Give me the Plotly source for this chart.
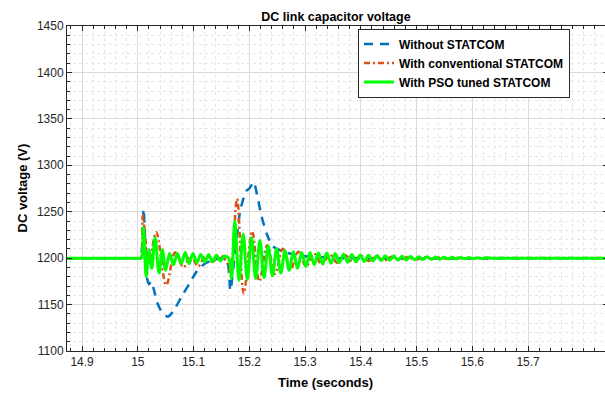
import plotly.graph_objects as go

# ---------------- data ----------------
t_without = [14.873, 15.000, 15.005, 15.0105, 15.016, 15.020, 15.024, 15.028, 15.035, 15.044,
             15.054, 15.064, 15.078, 15.092, 15.106, 15.120, 15.135, 15.150, 15.160, 15.166,
             15.175, 15.184, 15.194, 15.200, 15.208, 15.214, 15.222, 15.232, 15.242, 15.260,
             15.280, 15.300, 15.330, 15.360, 15.845]
v_without = [1200, 1200, 1200, 1253, 1180, 1172, 1175, 1168, 1152, 1141,
             1137, 1143, 1158, 1172, 1186, 1194, 1198, 1200, 1199, 1165,
             1210, 1252, 1272, 1275, 1282, 1268, 1245, 1225, 1213, 1207,
             1204, 1202, 1201, 1200, 1200]

t_conv = [14.873, 15.000, 15.005, 15.009, 15.020, 15.033, 15.051, 15.067, 15.082, 15.095,
          15.108, 15.121, 15.134, 15.148, 15.160, 15.166, 15.178, 15.190, 15.205, 15.218,
          15.232, 15.246, 15.260, 15.274, 15.288, 15.302, 15.316, 15.330, 15.344, 15.358,
          15.372, 15.386, 15.400, 15.414, 15.428, 15.442, 15.456, 15.470, 15.484, 15.498,
          15.512, 15.526, 15.540, 15.554, 15.568, 15.582, 15.600, 15.845]
v_conv = [1200, 1200, 1200, 1246, 1195, 1228, 1171, 1206, 1190, 1203,
          1191, 1202, 1196, 1203, 1195, 1185, 1264, 1162, 1229, 1175,
          1214, 1183, 1210, 1188, 1207, 1191, 1205, 1193, 1204, 1195,
          1203, 1196, 1202.5, 1197, 1202, 1197.5, 1201.5, 1198, 1201.2, 1198.5,
          1201, 1199, 1200.7, 1199.3, 1200.5, 1199.6, 1200, 1200]

t_pso = [14.873, 15.000, 15.006, 15.010, 15.015, 15.020, 15.025, 15.031, 15.038, 15.044,
         15.050, 15.057, 15.064, 15.071, 15.078, 15.085, 15.092, 15.099, 15.106, 15.113,
         15.120, 15.127, 15.134, 15.141, 15.148, 15.155, 15.163, 15.168, 15.174, 15.1815,
         15.189, 15.1965, 15.204, 15.2115, 15.219, 15.2265, 15.234, 15.2415, 15.249, 15.2565,
         15.264, 15.2715, 15.279, 15.2865, 15.294, 15.3015, 15.309, 15.3165, 15.324, 15.3315,
         15.339, 15.3465, 15.354, 15.3615, 15.369, 15.3765, 15.384, 15.3915, 15.399, 15.4065,
         15.414, 15.4215, 15.429, 15.4365, 15.444, 15.4515, 15.459, 15.4665, 15.474, 15.4815,
         15.489, 15.4965, 15.504, 15.5115, 15.519, 15.5265, 15.534, 15.5415, 15.549, 15.5565,
         15.564, 15.5715, 15.579, 15.5865, 15.594, 15.6015, 15.609, 15.6165, 15.624, 15.640,
         15.845]
v_pso = [1200, 1200, 1200, 1233, 1180, 1209, 1189, 1222, 1184, 1209,
         1187, 1205, 1193, 1205, 1194, 1206, 1194, 1205, 1195, 1204,
         1196, 1204, 1196, 1203, 1197, 1202, 1200, 1178, 1240, 1176,
         1226, 1177, 1222, 1178, 1219, 1179, 1213, 1181, 1210, 1184,
         1208, 1187, 1207, 1189, 1206, 1191, 1206, 1193, 1205.5, 1194,
         1205.5, 1194.5, 1205, 1195, 1204.5, 1195.5, 1204, 1196, 1203.5, 1196.5,
         1203, 1197, 1202.8, 1197.3, 1202.5, 1197.6, 1202.2, 1197.9, 1202, 1198.1,
         1201.8, 1198.3, 1201.6, 1198.5, 1201.4, 1198.7, 1201.2, 1198.9, 1201, 1199.1,
         1200.9, 1199.2, 1200.8, 1199.4, 1200.6, 1199.5, 1200.4, 1199.7, 1200.3, 1200,
         1200]

x_ticks = [14.9, 15.0, 15.1, 15.2, 15.3, 15.4, 15.5, 15.6, 15.7]
x_tick_labels = ["14.9", "15", "15.1", "15.2", "15.3", "15.4", "15.5", "15.6", "15.7"]
y_ticks = [1100, 1150, 1200, 1250, 1300, 1350, 1400, 1450]

# ---------------- figure ----------------
FONT = "Liberation Sans, Arial, sans-serif"
AX = "#262626"
W = 608  # plot area runs just past the visible 605 px window, as in the reference

fig = go.Figure()
fig.add_trace(go.Scatter(x=t_without, y=v_without, mode="lines", name="<b>Without STATCOM</b>",
                         line=dict(color="#0072BD", width=2.5, dash="9px,7px", shape="spline", smoothing=0.6)))
fig.add_trace(go.Scatter(x=t_conv, y=v_conv, mode="lines", name="<b>With conventional STATCOM</b>",
                         line=dict(color="#D95319", width=2.5, dash="6px,3px,2px,3px", shape="spline", smoothing=1.0)))
fig.add_trace(go.Scatter(x=t_pso, y=v_pso, mode="lines", name="<b>With PSO tuned STATCOM</b>",
                         line=dict(color="#00FF00", width=3, shape="spline", smoothing=1.0)))

axis_common = dict(
    showline=True, linecolor=AX, linewidth=1, mirror="allticks",
    ticks="inside", ticklen=5, tickcolor=AX,
    showgrid=True, gridcolor="#DADADA", gridwidth=1,
    zeroline=False, automargin=False,
    tickfont=dict(family=FONT, size=12, color=AX),
)

fig.update_xaxes(
    range=[14.873, 15.8434], tickvals=x_ticks, ticktext=x_tick_labels,
    minor=dict(dtick=0.02, tick0=14.9, showgrid=True, gridcolor="#E6E6E6", griddash="dot",
               ticks="inside", ticklen=3, tickcolor=AX),
    **axis_common,
)
fig.update_yaxes(
    range=[1100, 1450], tickvals=y_ticks,
    minor=dict(dtick=10, tick0=1100, showgrid=True, gridcolor="#E6E6E6", griddash="dot",
               ticks="inside", ticklen=3, tickcolor=AX),
    **axis_common,
)

pw = W - 67
fig.update_layout(
    width=W, height=394,
    margin=dict(l=67, r=0, t=26, b=43, autoexpand=False),
    paper_bgcolor="white", plot_bgcolor="white",
    font=dict(family=FONT, color=AX),
    title=dict(text="<b>DC link capacitor voltage</b>", x=(336 - 67) / pw, xref="paper", xanchor="center",
               y=0.9576, yref="container", yanchor="middle",
               font=dict(family=FONT, size=12.5, color="black")),
    showlegend=True,
    legend=dict(x=(358 - 67) / pw, y=0.992, xanchor="left", yanchor="top",
                bgcolor="white", bordercolor=AX, borderwidth=1,
                font=dict(family=FONT, size=12, color="black"),
                tracegroupgap=0, itemwidth=30),
    annotations=[
        dict(text="<b>Time (seconds)</b>", xref="paper", yref="paper",
             x=(325 - 67) / pw, y=-0.098, xanchor="center", yanchor="middle", showarrow=False,
             font=dict(family=FONT, size=13, color="black")),
        dict(text="<b>DC voltage (V)</b>", xref="paper", yref="paper",
             x=-45 / pw, y=0.5, xanchor="center", yanchor="middle", showarrow=False, textangle=-90,
             font=dict(family=FONT, size=13, color="black")),
    ],
)

fig.write_html("out.html", config={"displayModeBar": False},
               post_script="document.body.style.margin='0';document.body.style.overflow='hidden';")
